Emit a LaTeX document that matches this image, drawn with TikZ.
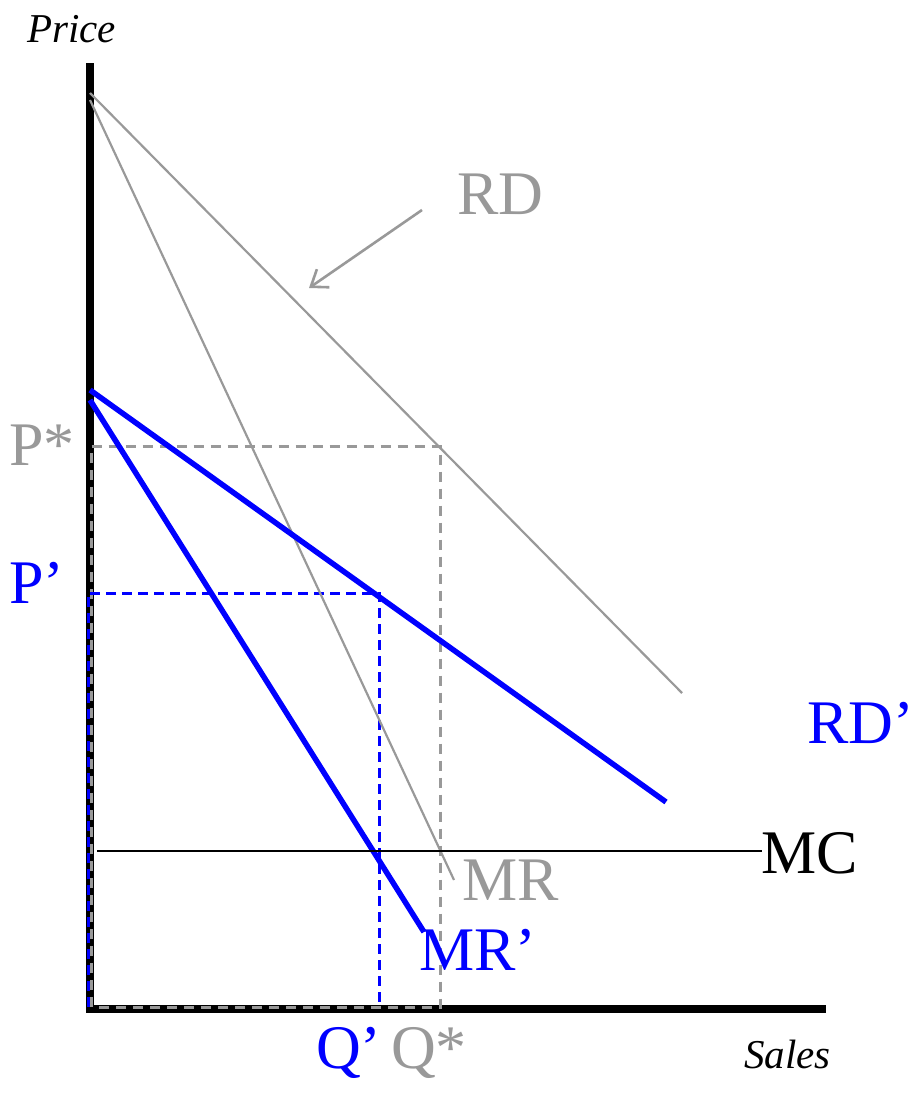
\documentclass[tikz,border=0pt]{standalone}
\usepackage{fontspec}
\setmainfont{Liberation Serif}
\usetikzlibrary{arrows.meta}
\definecolor{gr}{HTML}{999999}
\definecolor{bl}{HTML}{0000FF}
\begin{document}
\begin{tikzpicture}[x=1pt,y=-1pt,
  lbl/.style={inner sep=0pt,anchor=base west,font=\fontsize{62}{66}\selectfont},
  axlbl/.style={inner sep=0pt,anchor=base west,font=\fontsize{41}{45}\selectfont\itshape},
  axis/.style={line width=8pt,line cap=butt,line join=miter},
  thin gray/.style={draw=gr,line width=2.2pt},
  blue curve/.style={draw=bl,line width=5.5pt},
  gdash/.style={draw=gr,line width=3pt,dash pattern=on 10pt off 7pt},
  bdash/.style={draw=bl,line width=3pt,dash pattern=on 10pt off 6pt}]
\useasboundingbox (0,0) rectangle (923,1095);
% coordinates
\coordinate (O) at (90,1009);
\coordinate (Ytop) at (90,63);
\coordinate (Xend) at (826,1009);
\coordinate (rdA) at (90,93);
\coordinate (rdB) at (682,693);
\coordinate (mrA) at (90,100);
\coordinate (mrB) at (454,880);
\coordinate (rdpA) at (90,390);
\coordinate (rdpB) at (666,802);
\coordinate (mrpA) at (90,400);
\coordinate (mrpB) at (424,932);
\coordinate (mcA) at (97,851);
\coordinate (mcB) at (762,851);
\coordinate (arA) at (422,210);
\coordinate (arB) at (309,288);
\coordinate (ps) at (91.5,446);
\coordinate (qs) at (440,1007);
\coordinate (pp) at (88,593);
\coordinate (qp) at (379,1007);
% axes
\draw[axis] (Ytop) -- (O) -- (Xend);
% dashed boxes
\draw[gdash] (ps|-qs) -- (ps) -- (ps-|qs) -- (qs) -- cycle;
\draw[bdash] (pp|-qp) -- (pp) -- (pp-|qp) -- (qp);
% curves
\draw[thin gray] (rdA) -- (rdB);
\draw[thin gray] (mrA) -- (mrB);
\draw[blue curve] (rdpA) -- (rdpB);
\draw[blue curve] (mrpA) -- (mrpB);
\draw[line width=2pt] (mcA) -- (mcB);
\draw[draw=gr,line width=2.6pt,-{Straight Barb[length=15pt,width=22pt,line width=2.6pt]}] (arA) -- (arB);
% labels
\node[axlbl] (price) at (27,42) {Price};
\node[axlbl] (sales) at (744,1068) {Sales};
\node[lbl,text=gr] (rd) at (457,214) {RD};
\node[lbl,text=gr] (pstar) at (9,465) {P*};
\node[lbl,text=bl] (pprime) at (9,603) {P’};
\node[lbl,text=bl] (rdprime) at (807,743) {RD’};
\node[lbl] (mc) at (761,873) {MC};
\node[lbl,text=gr] (mr) at (462,900) {MR};
\node[lbl,text=bl] (mrprime) at (419,970) {MR’};
\node[lbl,text=bl] (qprime) at (316,1068) {Q’};
\node[lbl,text=gr] (qstar) at (391,1068) {Q*};
\end{tikzpicture}
\end{document}
